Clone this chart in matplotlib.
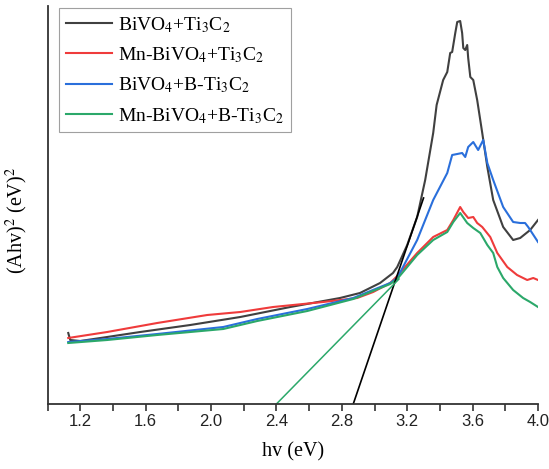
import matplotlib
matplotlib.use("Agg")
import matplotlib.pyplot as plt
from matplotlib.ticker import FixedLocator

plt.rcParams['font.family'] = ['Liberation Serif', 'DejaVu Serif']
plt.rcParams['mathtext.fontset'] = 'stix'

# --- data (arbitrary intensity units) ---
black_x = [1.127, 1.139, 1.20, 1.365, 1.567, 1.873, 2.179, 2.485, 2.789, 2.911, 3.034, 3.113,
           3.139, 3.20, 3.261, 3.31, 3.359, 3.38, 3.42, 3.445, 3.463, 3.475, 3.494, 3.506,
           3.524, 3.536, 3.543, 3.555, 3.567, 3.573, 3.586, 3.604, 3.628, 3.659, 3.690,
           3.726, 3.787, 3.848, 3.891, 3.952, 4.0]
black_y = [71, 64, 63, 67, 72, 79, 87, 97, 106, 111, 121, 131,
           137, 159, 187, 224, 271, 299, 324, 332, 351, 352, 371, 382,
           383, 371, 356, 354, 359, 346, 327, 324, 304, 271, 237,
           204, 177, 164, 166, 174, 184]

red_x = [1.127, 1.365, 1.671, 1.977, 2.179, 2.38, 2.686, 2.894, 2.992, 3.096, 3.139, 3.261,
         3.359, 3.445, 3.482, 3.524, 3.543, 3.573, 3.604, 3.628, 3.659, 3.708, 3.751,
         3.812, 3.872, 3.934, 3.971, 4.0]
red_y = [66, 72, 81, 89, 92, 97, 102, 106, 112, 121, 128, 151,
         167, 174, 184, 197, 192, 186, 187, 181, 177, 167, 151,
         137, 129, 124, 126, 124]

blue_x = [1.127, 1.365, 1.671, 2.075, 2.283, 2.589, 2.870, 3.096, 3.139, 3.261, 3.359, 3.445,
          3.475, 3.506, 3.536, 3.555, 3.573, 3.604, 3.634, 3.665, 3.690, 3.726, 3.787,
          3.848, 3.891, 3.921, 3.940, 4.0]
blue_y = [62, 65, 70, 77, 85, 95, 106, 121, 126, 164, 204, 231,
          249, 250, 251, 247, 257, 262, 254, 264, 241, 224, 197,
          182, 181, 181, 177, 162]

green_x = [1.127, 1.365, 1.671, 2.075, 2.283, 2.589, 2.870, 3.096, 3.139, 3.261, 3.359, 3.445,
           3.482, 3.524, 3.567, 3.604, 3.647, 3.690, 3.726, 3.751, 3.787, 3.848, 3.909,
           3.952, 4.0]
green_y = [61, 64, 69, 75, 83, 93, 105, 120, 125, 149, 164, 172,
           182, 191, 181, 176, 171, 159, 151, 137, 126, 114, 106,
           102, 97]

# Tauc tangent lines (x-intercepts 2.87 eV and 2.40 eV)
tan_black_x = [2.87, 3.30]
tan_black_y = [0, 206]
tan_green_x = [2.40, 3.15]
tan_green_y = [0, 125]

labels = [r'BiVO$_4$+Ti$_3$C$_2$', r'Mn-BiVO$_4$+Ti$_3$C$_2$',
          r'BiVO$_4$+B-Ti$_3$C$_2$', r'Mn-BiVO$_4$+B-Ti$_3$C$_2$']
colors = ['#404040', '#ef3b3b', '#2a6fdb', '#2ba86a']

W, H = 549, 469
fig = plt.figure(figsize=(W / 100, H / 100), dpi=100)
ax_w = 538 - 47.5
ax_h = 404 - 6
ax = fig.add_axes([47.5 / W, (H - 404) / H, ax_w / W, ax_h / H])

for xs, ys, c, lab in zip([black_x, red_x, blue_x, green_x],
                          [black_y, red_y, blue_y, green_y], colors, labels):
    ax.plot(xs, ys, color=c, lw=1.5, label=lab)

ax.plot(tan_black_x, tan_black_y, color='black', lw=1.2)
ax.plot(tan_green_x, tan_green_y, color='#2ba86a', lw=1.1)

ax.set_xlim(1.0, 4.0)
ax.set_ylim(0, 398)
ax.spines['top'].set_visible(False)
ax.spines['right'].set_visible(False)
for s in ['left', 'bottom']:
    ax.spines[s].set_linewidth(1.3)
    ax.spines[s].set_color('#333333')

ax.xaxis.set_major_locator(FixedLocator([1.2, 1.6, 2.0, 2.4, 2.8, 3.2, 3.6, 4.0]))
ax.xaxis.set_minor_locator(FixedLocator([1.0, 1.4, 1.8, 2.2, 2.6, 3.0, 3.4, 3.8]))
ax.tick_params(axis='x', which='both', direction='out', length=5, width=1.2, color='#333333')
ax.tick_params(axis='x', which='major', labelsize=12, pad=2.5, labelcolor='#222222')
for lbl in ax.get_xticklabels():
    lbl.set_fontfamily('Liberation Sans')
ax.set_yticks([])

ax.set_xlabel('hv (eV)', fontsize=14.5, labelpad=9)
ax.set_ylabel(r'(Ahv)$^2$ (eV)$^2$', fontsize=14.5)
ax.yaxis.set_label_coords((30 - 47.5) / ax_w, (404 - 220) / ax_h)

leg = ax.legend(loc='upper left', bbox_to_anchor=(59 / W, 1 - 8 / H),
                bbox_transform=fig.transFigure, borderaxespad=0, fontsize=14,
                frameon=True, fancybox=False, handlelength=2.35, handletextpad=0.35,
                labelspacing=0.55, borderpad=0.35)
leg.get_frame().set_edgecolor('#888888')
leg.get_frame().set_linewidth(0.8)

fig.savefig('out.png', dpi=100)
